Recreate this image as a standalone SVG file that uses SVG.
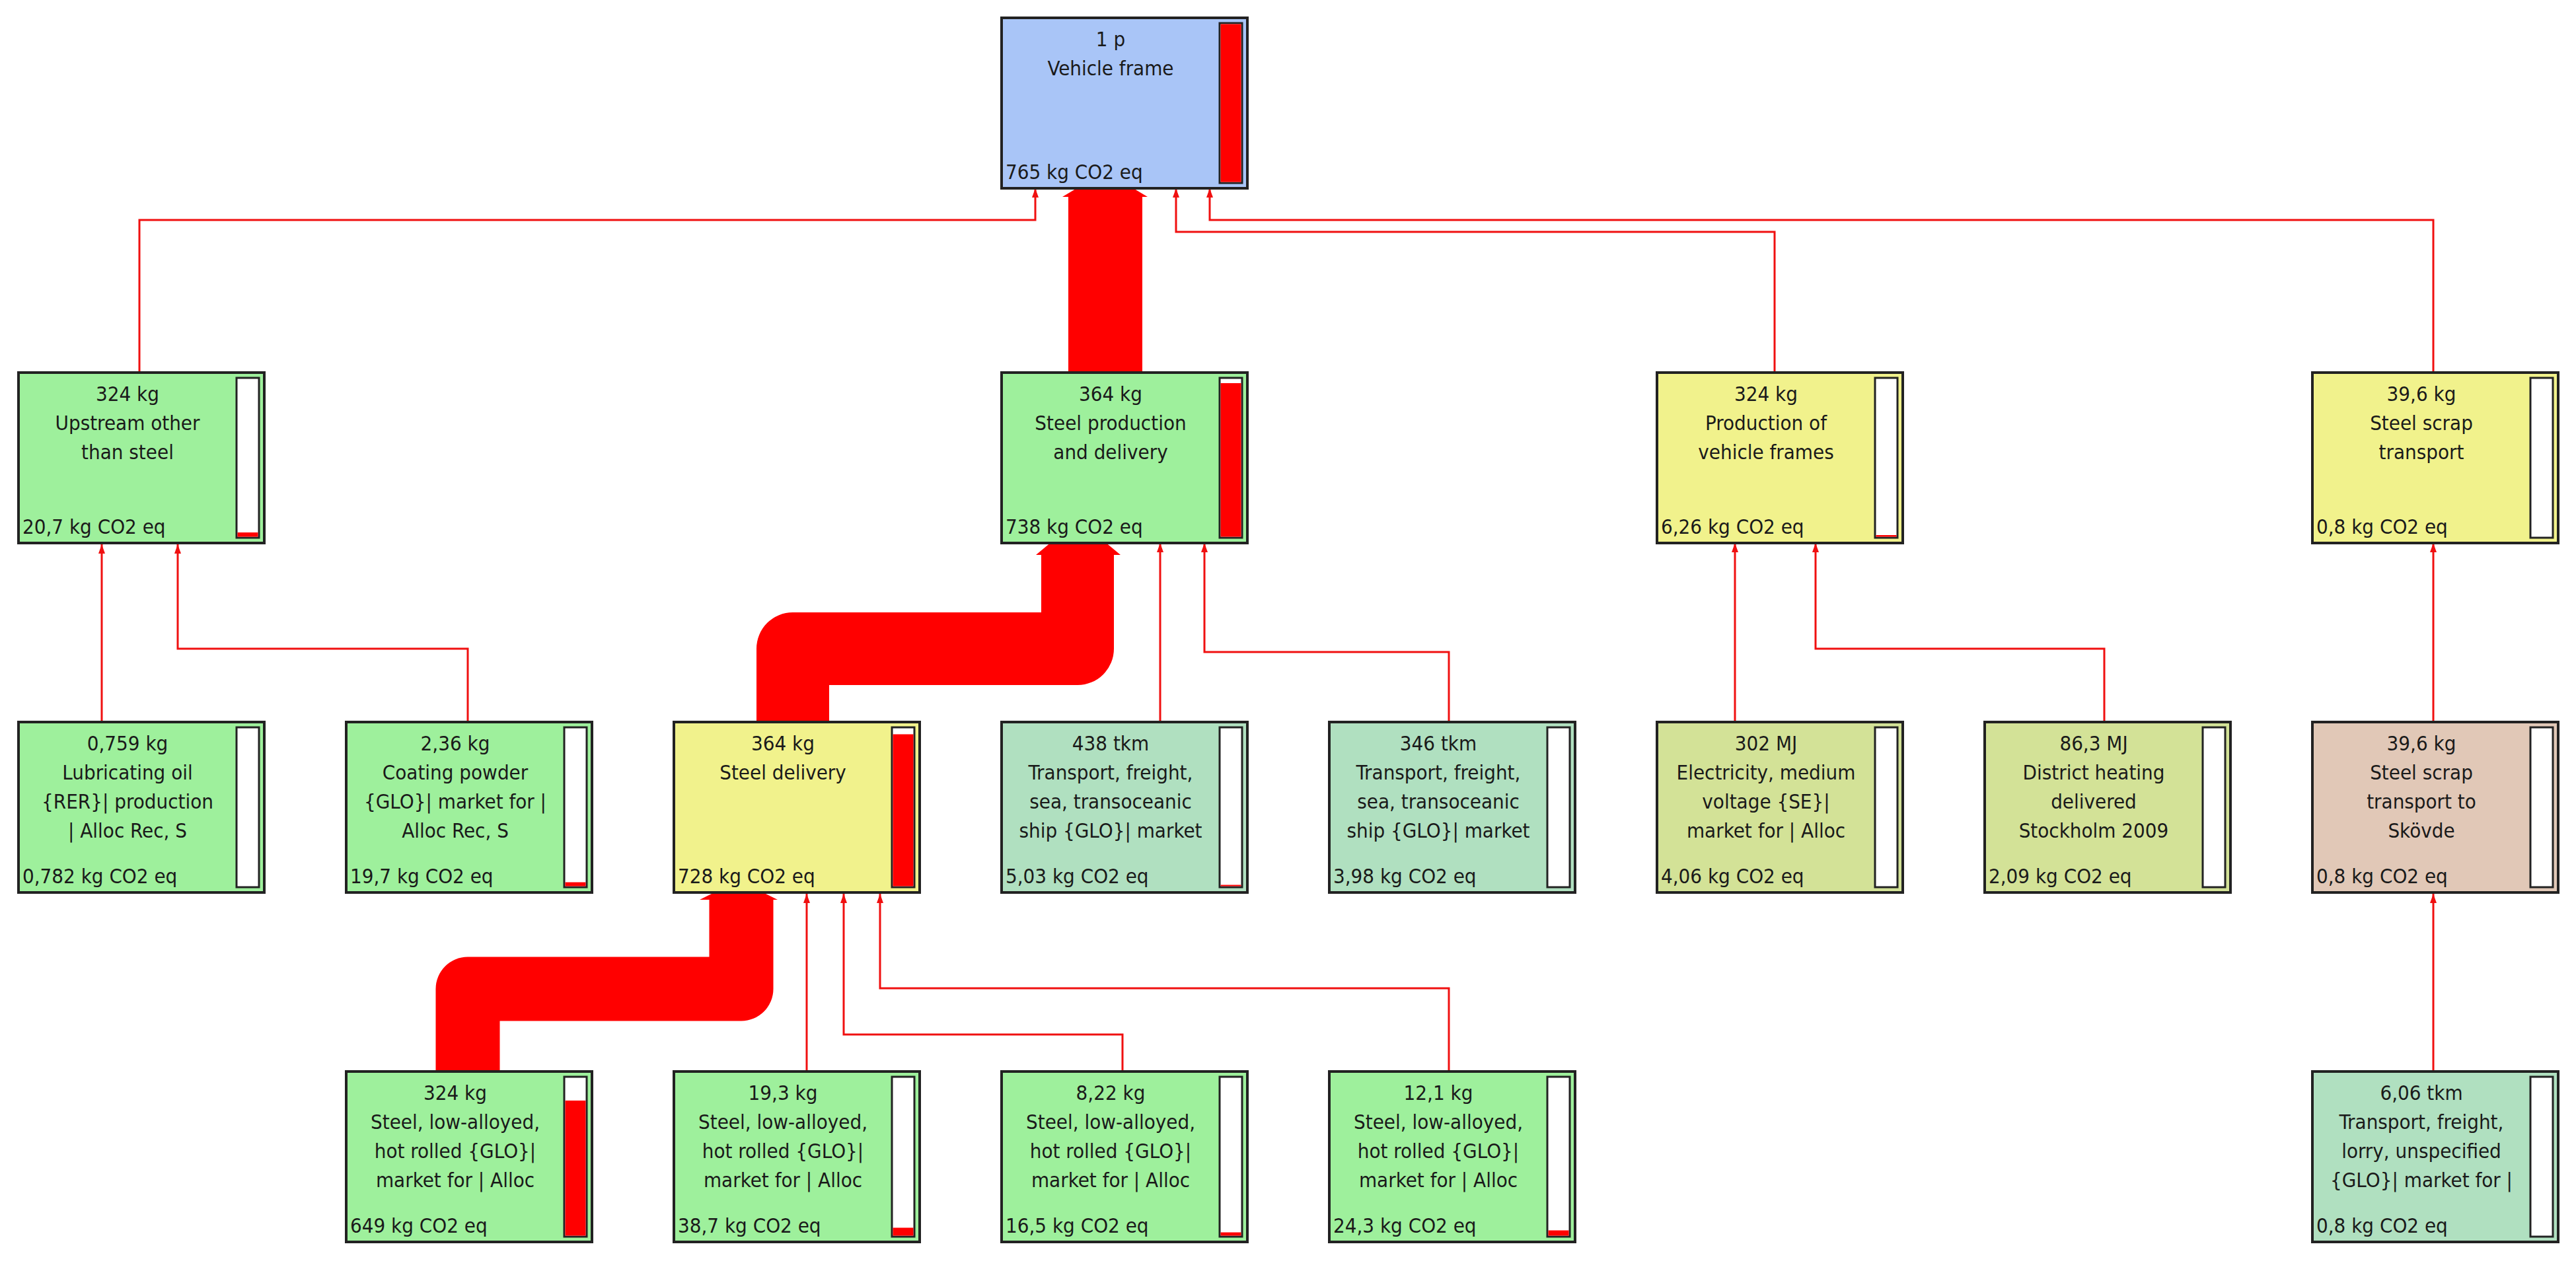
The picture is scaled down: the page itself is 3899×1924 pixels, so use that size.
<svg xmlns="http://www.w3.org/2000/svg" width="3899" height="1924" viewBox="0 0 3899 1924">
<style>
.box{stroke:#222;stroke-width:4}
.bar{fill:#fff;stroke:#222;stroke-width:3}
.fill{fill:#f00}
.t{font-family:"DejaVu Sans Condensed","Liberation Sans",Arial,sans-serif;font-size:31px;fill:#1a1a1a}
.c{text-anchor:middle}
.ln{fill:none;stroke:#f01010;stroke-width:3}
.band{fill:none;stroke:#f00;stroke-linejoin:round}
.blue{fill:#a9c5f7}.green{fill:#9ef09c}.yellow{fill:#f1f28c}.teal{fill:#b0e0c0}.olive{fill:#d3e297}.pink{fill:#e1c8b7}
</style>
<defs>
<marker id="ah" markerUnits="userSpaceOnUse" markerWidth="16" markerHeight="14" refX="14" refY="7" orient="auto">
<path d="M0,2 L14,7 L0,12 z" fill="#f01010"/>
</marker>
</defs>
<rect width="3899" height="1924" fill="#fff"/>
<g id="connectors">
<path class="band" stroke-width="112" d="M1673,564 V298"/>
<polygon points="1608,298 1737,298 1712,283 1633,283" fill="#f00"/>
<path class="band" stroke-width="110" d="M1200,1093 V982 H1631 V840"/>
<polygon points="1568,840 1696,840 1672,820 1592,820" fill="#f00"/>
<path class="band" stroke-width="97" d="M708,1622 V1497 H1122 V1362"/>
<polygon points="1059,1362 1177,1362 1155,1351 1081,1351" fill="#f00"/>
<g marker-end="url(#ah)">
<path class="ln" d="M211,564 V333 H1567 V285"/>
<path class="ln" d="M2686,564 V351 H1780 V285"/>
<path class="ln" d="M3683,564 V333 H1831 V285"/>
<path class="ln" d="M154,1093 V824"/>
<path class="ln" d="M708,1093 V982 H269 V824"/>
<path class="ln" d="M1756,1093 V822"/>
<path class="ln" d="M2193,1093 V987 H1823 V822"/>
<path class="ln" d="M2626,1093 V822"/>
<path class="ln" d="M3185,1093 V982 H2748 V822"/>
<path class="ln" d="M3683,1093 V822"/>
<path class="ln" d="M1221,1622 V1353"/>
<path class="ln" d="M1699,1622 V1566 H1277 V1353"/>
<path class="ln" d="M2193,1622 V1496 H1332 V1353"/>
<path class="ln" d="M3683,1622 V1353"/>
</g>
</g>

<g id="n-vehicle-frame" transform="translate(1516,27)">
<rect class="box blue" width="372" height="258"/>
<rect class="bar" x="330" y="8" width="34" height="242"/>
<rect class="fill" x="331.5" y="9.5" width="31" height="239"/>
<text class="t c" x="165" y="43">1 p</text>
<text class="t c" x="165" y="87">Vehicle frame</text>
<text class="t" x="6" y="244">765 kg CO2 eq</text>
</g>

<g id="n-upstream" transform="translate(28,564)">
<rect class="box green" width="372" height="258"/>
<rect class="bar" x="330" y="8" width="34" height="242"/>
<rect class="fill" x="331.5" y="242" width="31" height="6.5"/>
<text class="t c" x="165" y="43">324 kg</text>
<text class="t c" x="165" y="87">Upstream other</text>
<text class="t c" x="165" y="131">than steel</text>
<text class="t" x="6" y="244">20,7 kg CO2 eq</text>
</g>

<g id="n-steel-production" transform="translate(1516,564)">
<rect class="box green" width="372" height="258"/>
<rect class="bar" x="330" y="8" width="34" height="242"/>
<rect class="fill" x="331.5" y="16" width="31" height="232.5"/>
<text class="t c" x="165" y="43">364 kg</text>
<text class="t c" x="165" y="87">Steel production</text>
<text class="t c" x="165" y="131">and delivery</text>
<text class="t" x="6" y="244">738 kg CO2 eq</text>
</g>

<g id="n-production-frames" transform="translate(2508,564)">
<rect class="box yellow" width="372" height="258"/>
<rect class="bar" x="330" y="8" width="34" height="242"/>
<rect class="fill" x="331.5" y="246" width="31" height="2.5"/>
<text class="t c" x="165" y="43">324 kg</text>
<text class="t c" x="165" y="87">Production of</text>
<text class="t c" x="165" y="131">vehicle frames</text>
<text class="t" x="6" y="244">6,26 kg CO2 eq</text>
</g>

<g id="n-scrap-transport" transform="translate(3500,564)">
<rect class="box yellow" width="372" height="258"/>
<rect class="bar" x="330" y="8" width="34" height="242"/>
<text class="t c" x="165" y="43">39,6 kg</text>
<text class="t c" x="165" y="87">Steel scrap</text>
<text class="t c" x="165" y="131">transport</text>
<text class="t" x="6" y="244">0,8 kg CO2 eq</text>
</g>

<g id="n-lubricating-oil" transform="translate(28,1093)">
<rect class="box green" width="372" height="258"/>
<rect class="bar" x="330" y="8" width="34" height="242"/>
<text class="t c" x="165" y="43">0,759 kg</text>
<text class="t c" x="165" y="87">Lubricating oil</text>
<text class="t c" x="165" y="131">{RER}| production</text>
<text class="t c" x="165" y="175">| Alloc Rec, S</text>
<text class="t" x="6" y="244">0,782 kg CO2 eq</text>
</g>

<g id="n-coating-powder" transform="translate(524,1093)">
<rect class="box green" width="372" height="258"/>
<rect class="bar" x="330" y="8" width="34" height="242"/>
<rect class="fill" x="331.5" y="242.5" width="31" height="6"/>
<text class="t c" x="165" y="43">2,36 kg</text>
<text class="t c" x="165" y="87">Coating powder</text>
<text class="t c" x="165" y="131">{GLO}| market for |</text>
<text class="t c" x="165" y="175">Alloc Rec, S</text>
<text class="t" x="6" y="244">19,7 kg CO2 eq</text>
</g>

<g id="n-steel-delivery" transform="translate(1020,1093)">
<rect class="box yellow" width="372" height="258"/>
<rect class="bar" x="330" y="8" width="34" height="242"/>
<rect class="fill" x="331.5" y="18.5" width="31" height="230"/>
<text class="t c" x="165" y="43">364 kg</text>
<text class="t c" x="165" y="87">Steel delivery</text>
<text class="t" x="6" y="244">728 kg CO2 eq</text>
</g>

<g id="n-transport-438" transform="translate(1516,1093)">
<rect class="box teal" width="372" height="258"/>
<rect class="bar" x="330" y="8" width="34" height="242"/>
<rect class="fill" x="331.5" y="246.5" width="31" height="2"/>
<text class="t c" x="165" y="43">438 tkm</text>
<text class="t c" x="165" y="87">Transport, freight,</text>
<text class="t c" x="165" y="131">sea, transoceanic</text>
<text class="t c" x="165" y="175">ship {GLO}| market</text>
<text class="t" x="6" y="244">5,03 kg CO2 eq</text>
</g>

<g id="n-transport-346" transform="translate(2012,1093)">
<rect class="box teal" width="372" height="258"/>
<rect class="bar" x="330" y="8" width="34" height="242"/>
<text class="t c" x="165" y="43">346 tkm</text>
<text class="t c" x="165" y="87">Transport, freight,</text>
<text class="t c" x="165" y="131">sea, transoceanic</text>
<text class="t c" x="165" y="175">ship {GLO}| market</text>
<text class="t" x="6" y="244">3,98 kg CO2 eq</text>
</g>

<g id="n-electricity" transform="translate(2508,1093)">
<rect class="box olive" width="372" height="258"/>
<rect class="bar" x="330" y="8" width="34" height="242"/>
<text class="t c" x="165" y="43">302 MJ</text>
<text class="t c" x="165" y="87">Electricity, medium</text>
<text class="t c" x="165" y="131">voltage {SE}|</text>
<text class="t c" x="165" y="175">market for | Alloc</text>
<text class="t" x="6" y="244">4,06 kg CO2 eq</text>
</g>

<g id="n-district-heating" transform="translate(3004,1093)">
<rect class="box olive" width="372" height="258"/>
<rect class="bar" x="330" y="8" width="34" height="242"/>
<text class="t c" x="165" y="43">86,3 MJ</text>
<text class="t c" x="165" y="87">District heating</text>
<text class="t c" x="165" y="131">delivered</text>
<text class="t c" x="165" y="175">Stockholm 2009</text>
<text class="t" x="6" y="244">2,09 kg CO2 eq</text>
</g>

<g id="n-scrap-skovde" transform="translate(3500,1093)">
<rect class="box pink" width="372" height="258"/>
<rect class="bar" x="330" y="8" width="34" height="242"/>
<text class="t c" x="165" y="43">39,6 kg</text>
<text class="t c" x="165" y="87">Steel scrap</text>
<text class="t c" x="165" y="131">transport to</text>
<text class="t c" x="165" y="175">Skövde</text>
<text class="t" x="6" y="244">0,8 kg CO2 eq</text>
</g>

<g id="n-steel-324" transform="translate(524,1622)">
<rect class="box green" width="372" height="258"/>
<rect class="bar" x="330" y="8" width="34" height="242"/>
<rect class="fill" x="331.5" y="44" width="31" height="204.5"/>
<text class="t c" x="165" y="43">324 kg</text>
<text class="t c" x="165" y="87">Steel, low-alloyed,</text>
<text class="t c" x="165" y="131">hot rolled {GLO}|</text>
<text class="t c" x="165" y="175">market for | Alloc</text>
<text class="t" x="6" y="244">649 kg CO2 eq</text>
</g>

<g id="n-steel-19" transform="translate(1020,1622)">
<rect class="box green" width="372" height="258"/>
<rect class="bar" x="330" y="8" width="34" height="242"/>
<rect class="fill" x="331.5" y="236.5" width="31" height="12"/>
<text class="t c" x="165" y="43">19,3 kg</text>
<text class="t c" x="165" y="87">Steel, low-alloyed,</text>
<text class="t c" x="165" y="131">hot rolled {GLO}|</text>
<text class="t c" x="165" y="175">market for | Alloc</text>
<text class="t" x="6" y="244">38,7 kg CO2 eq</text>
</g>

<g id="n-steel-8" transform="translate(1516,1622)">
<rect class="box green" width="372" height="258"/>
<rect class="bar" x="330" y="8" width="34" height="242"/>
<rect class="fill" x="331.5" y="243.5" width="31" height="5"/>
<text class="t c" x="165" y="43">8,22 kg</text>
<text class="t c" x="165" y="87">Steel, low-alloyed,</text>
<text class="t c" x="165" y="131">hot rolled {GLO}|</text>
<text class="t c" x="165" y="175">market for | Alloc</text>
<text class="t" x="6" y="244">16,5 kg CO2 eq</text>
</g>

<g id="n-steel-12" transform="translate(2012,1622)">
<rect class="box green" width="372" height="258"/>
<rect class="bar" x="330" y="8" width="34" height="242"/>
<rect class="fill" x="331.5" y="240.5" width="31" height="8"/>
<text class="t c" x="165" y="43">12,1 kg</text>
<text class="t c" x="165" y="87">Steel, low-alloyed,</text>
<text class="t c" x="165" y="131">hot rolled {GLO}|</text>
<text class="t c" x="165" y="175">market for | Alloc</text>
<text class="t" x="6" y="244">24,3 kg CO2 eq</text>
</g>

<g id="n-lorry" transform="translate(3500,1622)">
<rect class="box teal" width="372" height="258"/>
<rect class="bar" x="330" y="8" width="34" height="242"/>
<text class="t c" x="165" y="43">6,06 tkm</text>
<text class="t c" x="165" y="87">Transport, freight,</text>
<text class="t c" x="165" y="131">lorry, unspecified</text>
<text class="t c" x="165" y="175">{GLO}| market for |</text>
<text class="t" x="6" y="244">0,8 kg CO2 eq</text>
</g>
</svg>
